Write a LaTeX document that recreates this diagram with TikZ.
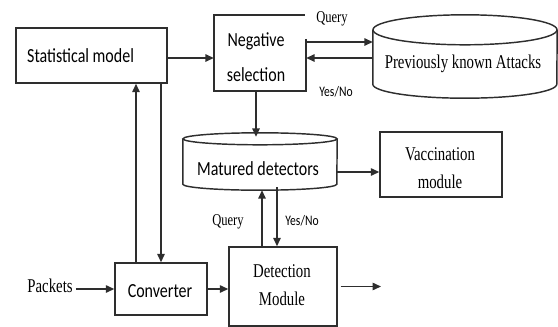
\documentclass[tikz,border=0pt]{standalone}
\usepackage{fontspec}
\newfontfamily\calfont[FakeStretch=0.8]{Carlito}
\newfontfamily\serfont[FakeStretch=0.76]{Liberation Serif}
\usetikzlibrary{arrows.meta}
\tikzset{
  line/.style={draw=black!82, line width=1.45pt},
  arr/.style={line, -{Triangle[length=8.5pt,width=7.5pt]}},
  box/.style={line, fill=white, rectangle, inner sep=0pt},
  frame/.style={rectangle, inner sep=0pt},
  sans/.style={font=\calfont\fontsize{20}{24}\selectfont, inner sep=0pt, anchor=base},
  serif/.style={font=\serfont\fontsize{19.5}{24}\selectfont, inner sep=0pt, anchor=base},
  tagserif/.style={font=\serfont\fontsize{16.5}{18}\selectfont, inner sep=0pt, anchor=base},
  tagsans/.style={font=\calfont\fontsize{14.5}{16}\selectfont, inner sep=0pt, anchor=base},
}
\begin{document}
\begin{tikzpicture}[x=1pt,y=-1pt]
\useasboundingbox (0,0) rectangle (558,327);

% boxes
\node[box, minimum width=151pt, minimum height=55pt] (stat) at (91.5,55.5) {};
\node[sans, anchor=base west] (statlbl) at (27,62) {Statistical model};

\node[frame, minimum width=92pt, minimum height=76pt] (neg) at (260,53) {};
\draw[line] ([yshift=-24pt]neg.north east) -- (neg.south east) -- (neg.south west)
  -- (neg.north west) -- ([xshift=-1pt]neg.north east);
\node[sans] (neglbl1) at (256,46) {Negative};
\node[sans] (neglbl2) at (256,81) {selection};

% database of previously known attacks
\node[frame, minimum width=184pt, minimum height=54pt] (db) at (465,57) {};
\draw[line] (db.north west) -- (db.south west)
  arc[start angle=180, end angle=360, x radius=92pt, y radius=14pt] -- (db.north east);
\draw[line] (db.north) ellipse[x radius=92pt, y radius=15pt];
\node[serif] (dblbl) at (463,68) {Previously known Attacks};

% matured detectors store
\node[frame, minimum width=154pt, minimum height=45pt] (mat) at (260,161.5) {};
\draw[line] (mat.north west) -- (mat.south west)
  arc[start angle=180, end angle=360, x radius=77pt, y radius=6pt] -- (mat.north east);
\draw[line] (mat.north) ellipse[x radius=77pt, y radius=6pt];
\node[sans] (matlbl) at (258,175) {Matured detectors};

\node[box, minimum width=122pt, minimum height=65pt] (vac) at (441,164.5) {};
\node[serif] (vaclbl1) at (440,160) {Vaccination};
\node[serif] (vaclbl2) at (440,188) {module};

\node[box, minimum width=92pt, minimum height=52pt] (conv) at (161,289) {};
\node[sans] (convlbl) at (160,297) {Converter};

\node[box, minimum width=108pt, minimum height=79pt] (det) at (283,286.5) {};
\node[serif] (detlbl1) at (282,277) {Detection};
\node[serif] (detlbl2) at (282,305) {Module};

\node[serif] (pk) at (50,292) {Packets};

% connectors
\coordinate (s1) at ([yshift=-2.5pt]stat.east);
\draw[arr] (s1) -- (s1 -| neg.west);

\draw[arr] ([yshift=11pt]neg.east) -- ([yshift=15pt]db.west);
\draw[arr] ([yshift=-1pt]db.west) -- ([yshift=-5pt]neg.east);
\node[tagserif] (qtop) at (332,22) {Query};
\node[tagsans] (ytop) at (336,96) {Yes/No};

\draw[arr] ([xshift=-4pt]neg.south) -- ([xshift=-4pt,yshift=2pt]mat.north);

\coordinate (m1) at ([yshift=-10.5pt]mat.east);
\draw[arr] (m1) -- (m1 -| vac.west);

\coordinate (c1) at ([xshift=-25pt]conv.north);
\draw[arr] (c1) -- (c1 |- stat.south);
\draw[arr] (stat.south -| conv.north) -- (conv.north);

\coordinate (p1) at ([xshift=3pt]pk.east |- conv.west);
\draw[arr] (p1) -- (conv.west);
\draw[arr] (conv.east) -- (conv.east -| det.west);

\coordinate (out) at (381,286.5);
\draw[arr] ([xshift=3pt]det.east) -- (out);

\coordinate (q1) at ([xshift=-21pt]det.north);
\coordinate (q2) at (q1 |- mat.south);
\draw[arr] (q1) -- ([yshift=-6pt]q2);
\coordinate (y1) at ([xshift=-6pt]det.north);
\coordinate (y2) at (y1 |- mat.south);
\draw[arr] ([yshift=-3pt]y2) -- (y1);
\node[tagserif] (qbot) at (228,225) {Query};
\node[tagsans] (ybot) at (302,225) {Yes/No};
\end{tikzpicture}
\end{document}
